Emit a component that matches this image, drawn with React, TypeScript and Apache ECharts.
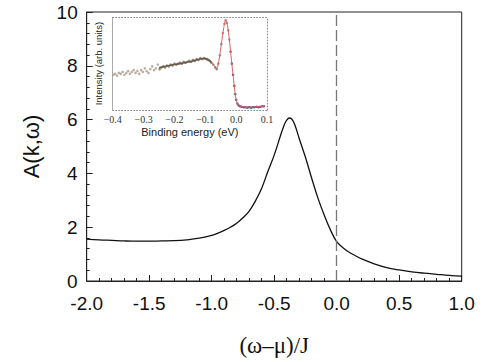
import React, { useEffect, useRef } from "react";
import * as echarts from "echarts";

// Main spectral function A(k, omega)
const mainX = [-2.0, -1.9, -1.8, -1.7, -1.6, -1.5, -1.4, -1.3, -1.2, -1.1, -1.0, -0.95, -0.9, -0.85, -0.8, -0.75, -0.7, -0.65, -0.6, -0.55, -0.5, -0.45, -0.42, -0.4, -0.38, -0.36, -0.34, -0.32, -0.3, -0.25, -0.2, -0.15, -0.1, -0.05, 0.0, 0.05, 0.1, 0.15, 0.2, 0.3, 0.4, 0.5, 0.6, 0.7, 0.8, 0.9, 1.0];
const mainY = [1.56, 1.53, 1.51, 1.49, 1.48, 1.48, 1.49, 1.5, 1.53, 1.59, 1.7, 1.78, 1.88, 2.0, 2.15, 2.35, 2.6, 2.98, 3.45, 4.08, 4.68, 5.4, 5.8, 5.98, 6.06, 6.02, 5.86, 5.6, 5.3, 4.6, 3.82, 3.08, 2.45, 1.9, 1.46, 1.24, 1.07, 0.94, 0.82, 0.64, 0.5, 0.41, 0.34, 0.29, 0.25, 0.21, 0.18];

const mainXTicks = { min: -2, max: 1, interval: 0.5 };
const mainYTicks = { min: 0, max: 10, interval: 2 };

// Inset: ARPES intensity vs binding energy
const insetPtsX = [-0.398, -0.392, -0.386, -0.38, -0.374, -0.368, -0.362, -0.356, -0.35, -0.344, -0.338, -0.332, -0.326, -0.32, -0.314, -0.308, -0.302, -0.296, -0.29, -0.284, -0.278, -0.272, -0.266, -0.26, -0.254, -0.248, -0.242, -0.236, -0.23, -0.224, -0.218, -0.212, -0.206, -0.2, -0.194, -0.188, -0.182, -0.176, -0.17, -0.164, -0.158, -0.152, -0.146, -0.14, -0.134, -0.128, -0.122, -0.116, -0.11, -0.104, -0.098, -0.092, -0.086, -0.08, -0.074, -0.068, -0.063, -0.058, -0.053, -0.048, -0.043, -0.038, -0.034, -0.03, -0.026, -0.022, -0.018, -0.014, -0.01, -0.006, -0.003, 0.0, 0.004, 0.008, 0.013, 0.018, 0.024, 0.03, 0.036, 0.042, 0.048, 0.054, 0.06, 0.066, 0.072, 0.078, 0.084, 0.09];
const insetPtsY = [0.38, 0.39, 0.37, 0.4, 0.39, 0.41, 0.38, 0.4, 0.42, 0.39, 0.41, 0.43, 0.4, 0.42, 0.39, 0.43, 0.41, 0.45, 0.42, 0.4, 0.44, 0.47, 0.43, 0.45, 0.49, 0.44, 0.46, 0.47, 0.46, 0.48, 0.47, 0.49, 0.48, 0.5, 0.49, 0.5, 0.51, 0.5, 0.52, 0.51, 0.52, 0.53, 0.52, 0.54, 0.53, 0.55, 0.54, 0.56, 0.55, 0.56, 0.55, 0.54, 0.53, 0.51, 0.49, 0.46, 0.44, 0.5, 0.59, 0.71, 0.83, 0.93, 0.97, 0.94, 0.86, 0.76, 0.63, 0.5, 0.38, 0.26, 0.17, 0.11, 0.07, 0.05, 0.04, 0.035, 0.03, 0.03, 0.025, 0.03, 0.025, 0.03, 0.03, 0.035, 0.03, 0.035, 0.04, 0.04];
const insetFitX = [-0.08, -0.07, -0.063, -0.055, -0.048, -0.04, -0.034, -0.028, -0.022, -0.015, -0.01, -0.004, 0.0, 0.006, 0.015, 0.04, 0.09];
const insetFitY = [0.51, 0.47, 0.45, 0.55, 0.71, 0.89, 0.97, 0.91, 0.76, 0.53, 0.38, 0.2, 0.11, 0.06, 0.04, 0.03, 0.04];
const insetBgX = [-0.25, -0.2, -0.15, -0.1, -0.08];
const insetBgY = [0.455, 0.49, 0.52, 0.555, 0.51];

const insetXTicks = { min: -0.4, max: 0.1, interval: 0.1 };

export default function App() {
  const ref = useRef<HTMLDivElement>(null);
  useEffect(() => {
    if (!ref.current) return;
    const chart = echarts.init(ref.current, undefined, { renderer: "svg" });
    const fmt1 = (v: number) => (Math.abs(v) < 1e-9 ? 0 : v).toFixed(1);
    const dotted = { show: true, onZero: false, lineStyle: { color: "#8a8a8a", type: [1, 2], width: 1 } };
    chart.setOption({
      animation: false,
      backgroundColor: "#fff",
      grid: [
        { left: 86.7, right: 23.3, top: 12, bottom: 80, show: true, borderColor: "#222", borderWidth: 1, backgroundColor: "transparent" },
        { left: 112.7, top: 17.3, width: 154.3, height: 92.7, show: false },
      ],
      xAxis: [
        {
          gridIndex: 0, type: "value", ...mainXTicks,
          axisLine: { onZero: false, lineStyle: { color: "#222", width: 1 } },
          axisTick: { inside: true, length: 6, lineStyle: { color: "#222" } },
          minorTick: { show: true, splitNumber: 5, length: 3, lineStyle: { color: "#222" } },
          splitLine: { show: false },
          axisLabel: { formatter: fmt1, color: "#111", fontSize: 19, fontFamily: "Liberation Sans", margin: 13 },
          name: "(ω–μ)/J", nameLocation: "middle", nameGap: 53,
          nameTextStyle: { fontSize: 23, color: "#111", fontFamily: "Liberation Serif" },
        },
        {
          gridIndex: 1, type: "value", ...insetXTicks,
          axisLine: dotted,
          axisTick: { show: false },
          splitLine: { show: false },
          axisLabel: {
            formatter: (v: number) => fmt1(v).replace("-", "−"),
            color: "#333", fontSize: 10, fontFamily: "Liberation Serif", margin: 4,
          },
          name: "Binding energy (eV)", nameLocation: "middle", nameGap: 16,
          nameTextStyle: { fontSize: 11, color: "#222", fontFamily: "Liberation Sans" },
        },
        {
          gridIndex: 1, type: "value", position: "top", ...insetXTicks,
          axisLine: dotted,
          axisTick: { show: false }, axisLabel: { show: false }, splitLine: { show: false },
        },
      ],
      yAxis: [
        {
          gridIndex: 0, type: "value", ...mainYTicks,
          axisLine: { show: true, onZero: false, lineStyle: { color: "#222", width: 1 } },
          axisTick: { inside: true, length: 6, lineStyle: { color: "#222" } },
          minorTick: { show: true, splitNumber: 5, length: 3, lineStyle: { color: "#222" } },
          splitLine: { show: false },
          axisLabel: { color: "#111", fontSize: 19, fontFamily: "Liberation Sans", margin: 9 },
          name: "A(k,ω)", nameLocation: "middle", nameGap: 44,
          nameTextStyle: { fontSize: 22, color: "#111", fontFamily: "Liberation Sans" },
        },
        {
          gridIndex: 1, type: "value", min: 0, max: 1,
          axisLine: { show: true, onZero: false, lineStyle: { color: "#aaa", width: 1 } },
          axisTick: { show: false }, axisLabel: { show: false }, splitLine: { show: false },
          name: "Intensity (arb. units)", nameLocation: "middle", nameGap: 9,
          nameTextStyle: { fontSize: 9.5, color: "#222", fontFamily: "Liberation Sans" },
        },
        {
          gridIndex: 1, type: "value", min: 0, max: 1, position: "right",
          axisLine: dotted,
          axisTick: { show: false }, axisLabel: { show: false }, splitLine: { show: false },
        },
      ],
      series: [
        {
          type: "line", xAxisIndex: 0, yAxisIndex: 0,
          data: mainX.map((x, i) => [x, mainY[i]]),
          smooth: 0.4, showSymbol: false,
          lineStyle: { color: "#111", width: 1.3 },
          markLine: {
            silent: true, symbol: "none", label: { show: false },
            lineStyle: { color: "#777", type: [11, 4], width: 1.3 },
            data: [{ xAxis: 0 }],
          },
        },
        {
          type: "line", xAxisIndex: 1, yAxisIndex: 1,
          data: insetBgX.map((x, i) => [x, insetBgY[i]]),
          smooth: true, showSymbol: false,
          lineStyle: { color: "#6a5a4a", width: 1.5 },
        },
        {
          type: "scatter", xAxisIndex: 1, yAxisIndex: 1,
          data: insetPtsX.map((x, i) => [x, insetPtsY[i]]),
          symbol: "circle", symbolSize: 2.6,
          itemStyle: {
            color: (p: any) => {
              const x = p.value[0];
              if (x < -0.25) return "#a89888";
              if (x < -0.06) return "#7d6b5c";
              if (x < -0.02) return "#9a7a78";
              return "#3e3e72";
            },
          },
        },
        {
          type: "line", xAxisIndex: 1, yAxisIndex: 1,
          data: insetFitX.map((x, i) => [x, insetFitY[i]]),
          smooth: 0.3, showSymbol: false,
          lineStyle: { color: "#d9625e", width: 1 },
        },
      ],
    });
    return () => chart.dispose();
  }, []);
  return <div ref={ref} style={{ width: 485, height: 362, position: "absolute", left: 0, top: 0 }} />;
}
